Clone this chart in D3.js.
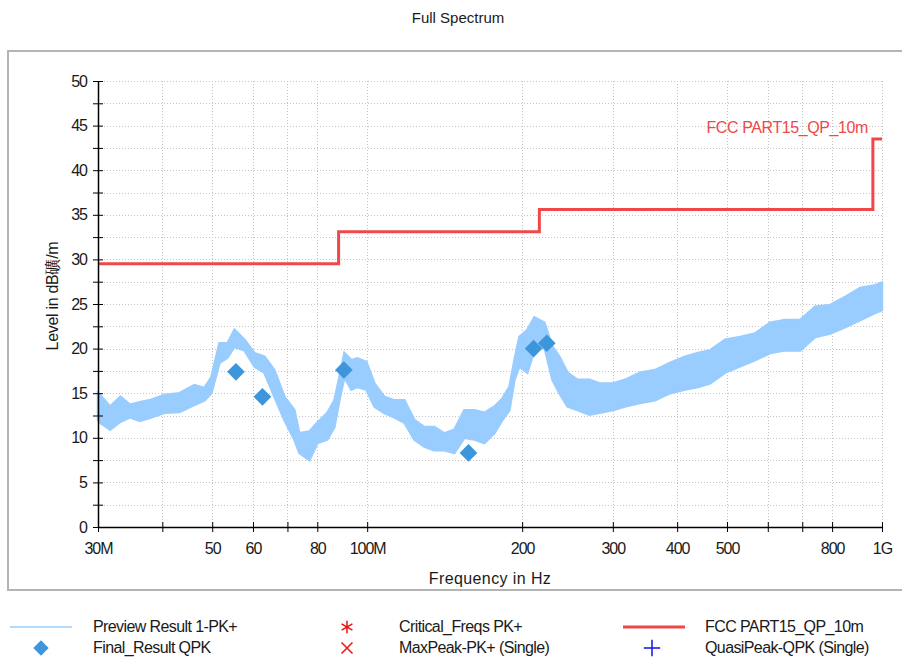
<!DOCTYPE html>
<html>
<head>
<meta charset="utf-8">
<script src="https://cdn.jsdelivr.net/npm/d3@7"></script>
<style>
  body { margin: 0; background: #fff; }
  text { font-family: "Liberation Sans", Arial, sans-serif; fill: #1a1a1a; }
</style>
</head>
<body>
<div id="chart"></div>
<script>
// preview trace envelope (MHz, dBuV/m low / high)
const traceFreq = [30.0, 30.27, 31.67, 33.15, 34.62, 36.14, 37.75, 40.37, 43.19, 46.17, 48.29, 49.82, 51.64, 53.53, 55.23, 57.75, 60.39, 63.15, 66.03, 69.05, 72.2, 73.83, 77.2, 80.03, 83.69, 86.36, 88.31, 90.3, 93.17, 95.71, 99.63, 103.3, 107.9, 112.9, 118.1, 123.5, 129.1, 135.0, 141.2, 147.7, 154.4, 161.5, 168.9, 176.6, 183.1, 188.9, 193.2, 197.5, 204.7, 211.2, 220.9, 229.0, 236.2, 245.0, 256.2, 270.3, 282.7, 300.3, 316.7, 338.6, 362.2, 387.5, 414.4, 439.3, 463.5, 495.7, 530.1, 567.0, 606.4, 648.5, 693.6, 741.8, 793.4, 848.6, 907.4, 970.6, 1000];
const traceHigh = [15.0, 14.8, 13.5, 14.6, 13.7, 14.0, 14.2, 14.8, 15.0, 15.9, 15.6, 16.8, 20.6, 20.6, 22.1, 21.0, 19.5, 19.1, 17.6, 14.6, 13.1, 10.5, 10.7, 11.7, 12.8, 14.2, 16.8, 19.5, 18.7, 18.9, 18.5, 16.1, 14.6, 14.2, 14.2, 12.0, 11.2, 11.2, 10.5, 10.9, 13.1, 13.1, 12.8, 13.5, 14.4, 15.7, 18.7, 21.3, 22.1, 23.5, 22.9, 20.2, 19.1, 17.3, 16.5, 16.5, 16.1, 16.1, 16.5, 17.3, 17.6, 18.4, 19.1, 19.5, 19.8, 21.0, 21.3, 21.7, 22.9, 23.2, 23.2, 24.7, 24.9, 25.8, 26.8, 27.1, 27.4];
const traceLow = [12.0, 11.7, 10.9, 11.8, 12.3, 11.9, 12.2, 12.8, 12.9, 13.7, 14.2, 15.0, 18.4, 19.0, 20.2, 19.8, 18.0, 17.3, 14.6, 12.0, 9.8, 8.3, 7.5, 9.4, 9.8, 11.2, 14.2, 16.8, 15.4, 15.7, 15.4, 13.5, 12.8, 12.3, 11.7, 9.8, 9.0, 8.6, 8.6, 8.3, 10.0, 9.8, 9.4, 10.5, 12.0, 13.1, 16.5, 18.0, 17.3, 19.8, 20.2, 16.5, 15.0, 13.5, 13.1, 12.6, 12.8, 13.1, 13.5, 13.9, 14.2, 15.0, 15.4, 15.7, 16.1, 17.3, 18.0, 18.7, 19.5, 19.8, 19.8, 21.3, 21.7, 22.4, 23.2, 24.0, 24.3];

// FCC limit steps
const limitFreq = [30, 88, 216, 960, 1000];
const limitLevel = [29.5, 33.1, 35.6, 43.5, 43.5];

// final QPK results
const finalFreq = [55.6, 62.6, 90.1, 157.3, 210.5, 223.3];
const finalLevel = [17.4, 14.6, 17.6, 8.3, 20.0, 20.6];

const xTicks = [30, 40, 50, 60, 70, 80, 100, 200, 300, 400, 500, 600, 700, 800, 1000];
const xTickLabels = {30: '30M', 50: '50', 60: '60', 80: '80', 100: '100M', 200: '200', 300: '300', 400: '400', 500: '500', 800: '800', 1000: '1G'};

const legendItems = [
  {name: 'Preview Result 1-PK+', kind: 'line', color: '#99ccff', col: 0, row: 0},
  {name: 'Final_Result QPK', kind: 'diamond', color: '#3d96dc', col: 0, row: 1},
  {name: 'Critical_Freqs PK+', kind: 'star', color: '#ee1111', col: 1, row: 0},
  {name: 'MaxPeak-PK+ (Single)', kind: 'cross', color: '#ee1111', col: 1, row: 1},
  {name: 'FCC PART15_QP_10m', kind: 'limit', color: '#f04848', col: 2, row: 0},
  {name: 'QuasiPeak-QPK (Single)', kind: 'plus', color: '#1111ee', col: 2, row: 1}
];

const width = 902;
const height = 661;

const svg = d3.select('#chart')
  .append('svg')
  .attr('width', width)
  .attr('height', height);

const x = d3.scaleLog().domain([30, 1000]).range([98, 882]);
const y = d3.scaleLinear().domain([0, 50]).range([527, 81]);

svg.append('text')
  .attr('x', 458).attr('y', 23)
  .attr('text-anchor', 'middle')
  .attr('font-size', 15)
  .style('font-family', '"Liberation Sans Narrow", "Liberation Sans", sans-serif')
  .text('Full Spectrum');

// frame
svg.append('rect')
  .attr('x', 8).attr('y', 51)
  .attr('width', 900).attr('height', 539)
  .attr('fill', 'none')
  .attr('stroke', '#b4b4b4')
  .attr('stroke-width', 2);

// grid
const grid = svg.append('g')
  .attr('stroke', '#c4c4c4')
  .attr('stroke-width', 1)
  .attr('stroke-dasharray', '1,2');

grid.selectAll('.hg')
  .data(d3.range(2.5, 50.01, 2.5))
  .enter().append('line')
  .attr('x1', 98).attr('x2', 882)
  .attr('y1', d => Math.round(y(d)) + 0.5)
  .attr('y2', d => Math.round(y(d)) + 0.5);

grid.selectAll('.vg')
  .data(xTicks.slice(1))
  .enter().append('line')
  .attr('x1', d => Math.round(x(d)) + 0.5)
  .attr('x2', d => Math.round(x(d)) + 0.5)
  .attr('y1', 81).attr('y2', 527);

// preview trace band
const band = d3.range(traceFreq.length).map(i => ({f: traceFreq[i], lo: traceLow[i], hi: traceHigh[i]}));
svg.append('path')
  .datum(band)
  .attr('d', d3.area().x(d => x(d.f)).y0(d => y(d.lo)).y1(d => y(d.hi)))
  .attr('fill', '#99ccff')
  .attr('stroke', '#99ccff')
  .attr('stroke-width', 2.5)
  .attr('stroke-linejoin', 'miter');

// limit line
const limit = limitFreq.map((f, i) => ({f: f, v: limitLevel[i]}));
svg.append('path')
  .datum(limit)
  .attr('d', d3.line().x(d => x(d.f)).y(d => y(d.v)).curve(d3.curveStepAfter))
  .attr('fill', 'none')
  .attr('stroke', '#f04848')
  .attr('stroke-width', 3);

svg.append('text')
  .attr('x', 868).attr('y', 133)
  .attr('text-anchor', 'end')
  .attr('font-size', 16)
  .style('fill', '#f04848')
  .style('letter-spacing', '-0.4px')
  .text('FCC PART15_QP_10m');

// final result markers
const diamond = d3.symbol().type(d3.symbolDiamond2).size(200);
svg.append('g')
  .selectAll('path')
  .data(finalFreq.map((f, i) => ({f: f, v: finalLevel[i]})))
  .enter().append('path')
  .attr('transform', d => `translate(${x(d.f)},${y(d.v)})`)
  .attr('d', diamond)
  .attr('fill', '#3d96dc');

// axes
const yAxis = d3.axisLeft(y)
  .tickValues(d3.range(0, 50.01, 2.5))
  .tickSizeInner(5)
  .tickSizeOuter(0)
  .tickPadding(6)
  .tickFormat(d => d % 5 === 0 ? d : '');
const gy = svg.append('g')
  .attr('transform', 'translate(98,0)')
  .call(yAxis);
gy.selectAll('.tick line').attr('x2', 5).attr('x1', -5).attr('stroke', '#000');
gy.select('.domain').attr('stroke', '#000').attr('stroke-width', 1.5);
gy.selectAll('text').attr('font-size', 16).style('font-family', '"Liberation Sans", Arial, sans-serif').attr('fill', '#1a1a1a').style('letter-spacing', '-1px');

const xAxis = d3.axisBottom(x)
  .tickValues(xTicks)
  .tickSizeOuter(0)
  .tickPadding(10)
  .tickFormat(d => xTickLabels[d] || '');
const gx = svg.append('g')
  .attr('transform', 'translate(0,527)')
  .call(xAxis);
gx.selectAll('.tick line').attr('y1', -5).attr('y2', 5).attr('stroke', '#000');
gx.select('.domain').attr('stroke', '#000').attr('stroke-width', 1.5);
gx.selectAll('text').attr('font-size', 16).style('font-family', '"Liberation Sans", Arial, sans-serif').attr('fill', '#1a1a1a').style('letter-spacing', '-1px');

svg.append('text')
  .attr('x', 490).attr('y', 584)
  .attr('text-anchor', 'middle')
  .attr('font-size', 16)
  .style('letter-spacing', '0.4px')
  .text('Frequency in Hz');

svg.append('text')
  .attr('transform', 'translate(58,296) rotate(-90)')
  .attr('text-anchor', 'middle')
  .attr('font-size', 16)
  .style('letter-spacing', '-0.3px')
  .text('Level in dB礦/m');

// legend
const colX = [[10, 93], [321, 399], [623, 705]];
const rowY = [627, 648];
const leg = svg.append('g');
legendItems.forEach(it => {
  const sx = colX[it.col][0];
  const cy = rowY[it.row];
  const cx = sx + 31;
  if (it.kind === 'line') {
    leg.append('line').attr('x1', sx).attr('x2', sx + 62).attr('y1', cy).attr('y2', cy)
      .attr('stroke', it.color).attr('stroke-width', 1.5);
  } else if (it.kind === 'limit') {
    leg.append('line').attr('x1', sx).attr('x2', sx + 62).attr('y1', cy).attr('y2', cy)
      .attr('stroke', it.color).attr('stroke-width', 3);
  } else if (it.kind === 'diamond') {
    leg.append('path').attr('transform', `translate(${cx},${cy})`)
      .attr('d', d3.symbol().type(d3.symbolDiamond2).size(150)).attr('fill', it.color);
  } else if (it.kind === 'star') {
    leg.append('path').attr('transform', `translate(${cx - 5},${cy})`)
      .attr('d', d3.symbol().type(d3.symbolAsterisk).size(110))
      .attr('fill', 'none').attr('stroke', it.color).attr('stroke-width', 1.5);
  } else if (it.kind === 'cross') {
    leg.append('path').attr('transform', `translate(${cx - 5},${cy})`)
      .attr('d', d3.symbol().type(d3.symbolX).size(80))
      .attr('fill', 'none').attr('stroke', it.color).attr('stroke-width', 1.5);
  } else if (it.kind === 'plus') {
    leg.append('path').attr('transform', `translate(${cx - 2},${cy})`)
      .attr('d', d3.symbol().type(d3.symbolPlus).size(90))
      .attr('fill', 'none').attr('stroke', it.color).attr('stroke-width', 1.5);
  }
  leg.append('text')
    .attr('x', colX[it.col][1]).attr('y', cy + 5)
    .attr('font-size', 16)
    .style('letter-spacing', '-0.6px')
    .text(it.name);
});
</script>
</body>
</html>
